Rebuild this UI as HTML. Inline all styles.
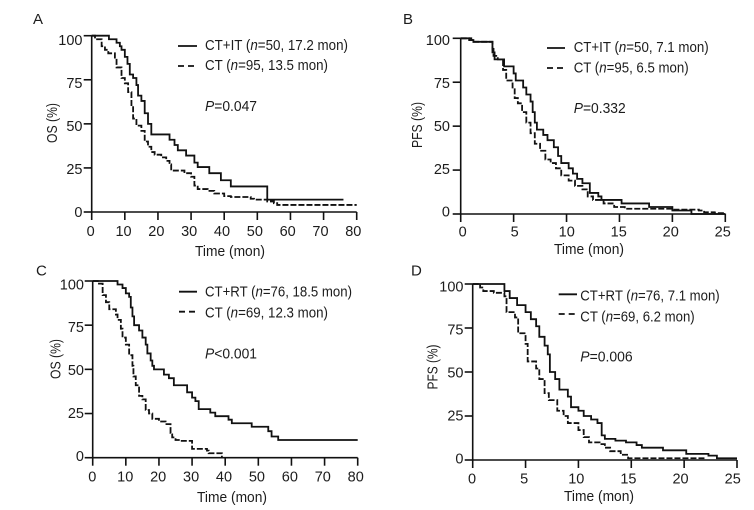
<!DOCTYPE html>
<html>
<head>
<meta charset="utf-8">
<title>Kaplan-Meier survival curves</title>
<style>
html,body{margin:0;padding:0;background:#fff;width:754px;height:510px;overflow:hidden}
svg{display:block;filter:blur(0.35px)}
text{font-family:"Liberation Sans",sans-serif;font-size:14.5px;fill:#1c1c1c}
.letter{font-size:15px}
</style>
</head>
<body>
<svg id="figure" width="754" height="510" viewBox="0 0 754 510" xmlns="http://www.w3.org/2000/svg">
  <g>
    <text class="letter" x="33" y="24">A</text>
    <line x1="178" x2="197" y1="46" y2="46" stroke="#111" stroke-width="1.8"/>
    <text x="205" y="50" textLength="143" lengthAdjust="spacingAndGlyphs">CT+IT (<tspan font-style="italic">n</tspan>=50, 17.2 mon)</text>
    <line x1="178" x2="197" y1="66" y2="66" stroke="#111" stroke-width="1.8" stroke-dasharray="6 4"/>
    <text x="205" y="70" textLength="123" lengthAdjust="spacingAndGlyphs">CT (<tspan font-style="italic">n</tspan>=95, 13.5 mon)</text>
    <text x="205" y="111" textLength="52" lengthAdjust="spacingAndGlyphs"><tspan font-style="italic">P</tspan>=0.047</text>
    <text text-anchor="middle" transform="translate(57,123) rotate(-90)" textLength="40" lengthAdjust="spacingAndGlyphs">OS (%)</text>
    <text text-anchor="middle" x="230" y="256" textLength="70" lengthAdjust="spacingAndGlyphs">Time (mon)</text>
  </g>
  <g>
    <text class="letter" x="403" y="24">B</text>
    <line x1="547" x2="565" y1="48" y2="48" stroke="#111" stroke-width="1.8"/>
    <text x="573.7" y="52" textLength="135" lengthAdjust="spacingAndGlyphs">CT+IT (<tspan font-style="italic">n</tspan>=50, 7.1 mon)</text>
    <line x1="547" x2="565" y1="68" y2="68" stroke="#111" stroke-width="1.8" stroke-dasharray="6 4"/>
    <text x="573.7" y="72.5" textLength="115" lengthAdjust="spacingAndGlyphs">CT (<tspan font-style="italic">n</tspan>=95, 6.5 mon)</text>
    <text x="573.7" y="113" textLength="52" lengthAdjust="spacingAndGlyphs"><tspan font-style="italic">P</tspan>=0.332</text>
    <text text-anchor="middle" transform="translate(422,125) rotate(-90)" textLength="46" lengthAdjust="spacingAndGlyphs">PFS (%)</text>
    <text text-anchor="middle" x="589" y="254" textLength="70" lengthAdjust="spacingAndGlyphs">Time (mon)</text>
  </g>
  <g>
    <text class="letter" x="36" y="275.5">C</text>
    <line x1="179" x2="197" y1="291.7" y2="291.7" stroke="#111" stroke-width="1.8"/>
    <text x="205" y="296.7" textLength="147" lengthAdjust="spacingAndGlyphs">CT+RT (<tspan font-style="italic">n</tspan>=76, 18.5 mon)</text>
    <line x1="179" x2="197" y1="311.7" y2="311.7" stroke="#111" stroke-width="1.8" stroke-dasharray="6 4"/>
    <text x="205" y="317.3" textLength="123" lengthAdjust="spacingAndGlyphs">CT (<tspan font-style="italic">n</tspan>=69, 12.3 mon)</text>
    <text x="205" y="358.3" textLength="52" lengthAdjust="spacingAndGlyphs"><tspan font-style="italic">P</tspan>&lt;0.001</text>
    <text text-anchor="middle" transform="translate(60.5,359) rotate(-90)" textLength="40" lengthAdjust="spacingAndGlyphs">OS (%)</text>
    <text text-anchor="middle" x="232" y="502" textLength="70" lengthAdjust="spacingAndGlyphs">Time (mon)</text>
  </g>
  <g>
    <text class="letter" x="411" y="275.5">D</text>
    <line x1="558.7" x2="577" y1="294.3" y2="294.3" stroke="#111" stroke-width="1.8"/>
    <text x="580.3" y="300.7" textLength="139.4" lengthAdjust="spacingAndGlyphs">CT+RT (<tspan font-style="italic">n</tspan>=76, 7.1 mon)</text>
    <line x1="558.7" x2="577" y1="314" y2="314" stroke="#111" stroke-width="1.8" stroke-dasharray="6 4"/>
    <text x="580.3" y="321.5" textLength="114.4" lengthAdjust="spacingAndGlyphs">CT (<tspan font-style="italic">n</tspan>=69, 6.2 mon)</text>
    <text x="580.3" y="361.7" textLength="52.4" lengthAdjust="spacingAndGlyphs"><tspan font-style="italic">P</tspan>=0.006</text>
    <text text-anchor="middle" transform="translate(437.5,367) rotate(-90)" textLength="45" lengthAdjust="spacingAndGlyphs">PFS (%)</text>
    <text text-anchor="middle" x="599" y="501" textLength="70" lengthAdjust="spacingAndGlyphs">Time (mon)</text>
  </g>
</svg>
<script>
// Survival tick labels
const yTicks = [0, 25, 50, 75, 100];
const osTimeTicks = [0, 10, 20, 30, 40, 50, 60, 70, 80];
const pfsTimeTicks = [0, 5, 10, 15, 20, 25];

// Panel A: OS, CT+IT vs CT
const aComboTimes = [0, 5.2, 7.5, 8.5, 9, 10, 10.8, 11.5, 12.5, 13.5, 14, 15, 16, 17, 18, 23.5, 25, 26, 28.5, 31, 32, 35.5, 39, 42, 53, 76];
const aComboSurvival = [100, 98, 96, 94, 92, 88, 84, 78, 76, 72, 66, 63, 56, 50, 44, 41, 38, 35, 32, 28, 25.5, 22, 18, 14.5, 7, 7];
const aControlTimes = [0, 1, 3, 4, 5, 7, 7.5, 9, 10, 11, 12, 12.5, 13.5, 15, 16, 17, 18, 19, 21, 22.5, 23.5, 24, 28, 30, 31, 32, 35, 37, 40, 42, 48, 49, 53, 55, 56, 80];
const aControlSurvival = [100, 98, 94, 92, 90, 87, 82, 76, 73, 68, 60, 53, 49, 46, 40, 37, 34, 32.5, 31, 29, 27, 23.5, 22, 20, 15, 13, 12, 10.5, 9, 8.5, 7.5, 7, 6, 5, 4, 4];

// Panel B: PFS, CT+IT vs CT
const bComboTimes = [0, 1, 1.2, 3, 3.2, 4.1, 5, 5.2, 5.9, 6.2, 6.6, 6.8, 7, 7.2, 7.8, 8.2, 8.8, 9.2, 9.5, 10.2, 10.6, 11, 11.5, 12.2, 13, 13.3, 15.2, 17.8, 20, 21.8, 25];
const bComboSurvival = [100, 99, 98, 92, 88, 84, 80, 76, 72, 68, 64, 58, 52, 48, 45, 42, 38, 33, 29, 26, 23, 20, 17.5, 12, 10, 8, 6, 4, 2, 0, 0];
const bControlTimes = [0, 0.8, 1.2, 3, 3.1, 3.5, 4, 4.3, 4.9, 5.1, 5.4, 5.8, 6.2, 6.6, 7, 7.5, 8, 8.5, 9, 9.5, 10.2, 10.8, 11.5, 12, 12.5, 13.5, 14.5, 15.5, 20, 22.5, 23, 24, 25];
const bControlSurvival = [100, 99, 98, 94, 90, 88, 82, 76, 72, 66, 63, 58, 52, 46, 40, 36, 31, 29, 26, 22, 19, 16, 14, 10, 8, 6, 4, 3, 2.5, 2, 1, 0.5, 0];

// Panel C: OS, CT+RT vs CT
const cComboTimes = [0, 7.5, 9, 10, 11, 11.5, 12, 12.5, 14, 15, 16, 16.5, 17.5, 18, 18.5, 21.5, 23, 24.5, 28.5, 30, 31, 32, 35.5, 37, 41, 42, 48, 53, 54, 56, 80];
const cComboSurvival = [100, 98, 96, 93, 91, 85, 80, 75, 72, 68, 64, 59, 55, 52, 50, 47, 45, 41, 37, 34, 32, 27.5, 25.5, 23.5, 21.5, 19.5, 17.5, 15, 12, 10, 10];
const cControlTimes = [0, 1.5, 3, 4, 5, 7, 7.5, 8.5, 9, 10, 11, 12, 12.3, 13, 14, 15, 16, 17, 18, 20, 22, 23.5, 24, 25, 26, 30, 34.5, 35, 39];
const cControlSurvival = [100, 98.5, 92, 88, 84, 81, 78, 73, 68, 64, 58, 52, 46, 41, 35, 33, 27, 25, 22, 20.5, 19, 14, 11.5, 10, 9.5, 5, 4, 2.5, 0];

// Panel D: PFS, CT+RT vs CT
const dComboTimes = [0, 3, 3.5, 4.2, 5, 5.5, 6, 6.3, 6.8, 7.1, 7.3, 7.8, 8.2, 9, 9.3, 10, 10.5, 11.2, 11.8, 12.2, 12.5, 13.5, 14.5, 15.5, 16, 18, 20.2, 22.3, 23.1, 25];
const dComboSurvival = [100, 96, 92, 88, 84, 80, 76, 70, 65, 60, 50, 46, 40, 36, 30, 28, 25, 23, 21, 14, 12, 11, 10, 8.5, 7, 5.5, 3.5, 2.5, 1, 1];
const dControlTimes = [0, 0.7, 1, 2, 3, 3.2, 4, 4.3, 5, 5.2, 6, 6.3, 6.8, 7.2, 8, 8.6, 9, 10, 10.5, 11, 12, 12.5, 13, 14, 14.7, 22];
const dControlSurvival = [100, 98, 96, 95, 93, 84, 81, 72, 66, 56, 52, 46, 38, 34, 28, 25, 21, 17, 13, 10, 9, 7, 5, 3, 1, 1];

const panels = [
  {id:'a', times:osTimeTicks, maxT:80, x0:91.7, x1:356.7, yTop:35.7, yBot:212, lx0:90.7, lx1:353.3, lyTop:40, lyBot:212, labelRight:82.5, xLabelBase:236,
   solid:[aComboTimes, aComboSurvival], dashed:[aControlTimes, aControlSurvival]},
  {id:'b', times:pfsTimeTicks, maxT:25, x0:460.7, x1:725.3, yTop:38.3, yBot:214, lx0:462.7, lx1:722.7, lyTop:40, lyBot:211.7, labelRight:450, xLabelBase:236.5,
   solid:[bComboTimes, bComboSurvival], dashed:[bControlTimes, bControlSurvival]},
  {id:'c', times:osTimeTicks, maxT:80, x0:92.7, x1:357.7, yTop:281, yBot:457.7, lx0:92.3, lx1:355.7, lyTop:284.3, lyBot:456, labelRight:84, xLabelBase:481.5,
   solid:[cComboTimes, cComboSurvival], dashed:[cControlTimes, cControlSurvival]},
  {id:'d', times:pfsTimeTicks, maxT:25, x0:472.7, x1:737, yTop:284, yBot:460, lx0:472, lx1:732.7, lyTop:286.7, lyBot:458.3, labelRight:463.5, xLabelBase:483.5,
   solid:[dComboTimes, dComboSurvival], dashed:[dControlTimes, dControlSurvival]}
];

const NS = 'http://www.w3.org/2000/svg';
const svg = document.getElementById('figure');

function make(tag, attrs, parent) {
  const el = document.createElementNS(NS, tag);
  for (const k in attrs) el.setAttribute(k, attrs[k]);
  parent.appendChild(el);
  return el;
}

function stepPath(times, survival, sx, sy) {
  let d = 'M' + sx(times[0]).toFixed(2) + ' ' + sy(survival[0]).toFixed(2);
  for (let i = 1; i < times.length; i++) {
    d += 'H' + sx(times[i]).toFixed(2) + 'V' + sy(survival[i]).toFixed(2);
  }
  return d;
}

panels.forEach(function (p) {
  const sx = function (t) { return p.x0 + (p.x1 - p.x0) * t / p.maxT; };
  const sy = function (s) { return p.yBot + (p.yTop - p.yBot) * s / 100; };
  const lx = function (t) { return p.lx0 + (p.lx1 - p.lx0) * t / p.maxT; };
  const ly = function (s) { return p.lyBot + (p.lyTop - p.lyBot) * s / 100; };

  const g = make('g', {stroke: '#111', 'stroke-width': 1.6, fill: 'none'}, svg);
  
  

  const xAxis = make('line', {x1: sx(0), x2: sx(p.maxT), y1: sy(0), y2: sy(0)}, g);
  
  
  const yAxis = make('line', {x1: sx(0), x2: sx(0), y1: sy(0), y2: sy(100)}, g);
  
  

  p.times.forEach(function (t) {
    const tick = make('line', {x1: sx(t), x2: sx(t), y1: sy(0), y2: sy(0) + 8}, g);
    
    
    const label = make('text', {x: lx(t), y: p.xLabelBase, 'text-anchor': 'middle', stroke: 'none'}, g);
    
    
    label.textContent = t;
  });

  yTicks.forEach(function (s) {
    const tick = make('line', {x1: sx(0) - 8, x2: sx(0), y1: sy(s), y2: sy(s)}, g);
    
    
    const label = make('text', {x: p.labelRight, y: ly(s) + 5, 'text-anchor': 'end', stroke: 'none'}, g);
    
    
    label.textContent = s;
  });

  const solid = make('path', {d: stepPath(p.solid[0], p.solid[1], sx, sy), fill: 'none', stroke: '#111', 'stroke-width': 1.8}, svg);
  
  

  const dashed = make('path', {d: stepPath(p.dashed[0], p.dashed[1], sx, sy), fill: 'none', stroke: '#111', 'stroke-width': 1.8, 'stroke-dasharray': '6 2'}, svg);
  
  
});
</script>
</body>
</html>
